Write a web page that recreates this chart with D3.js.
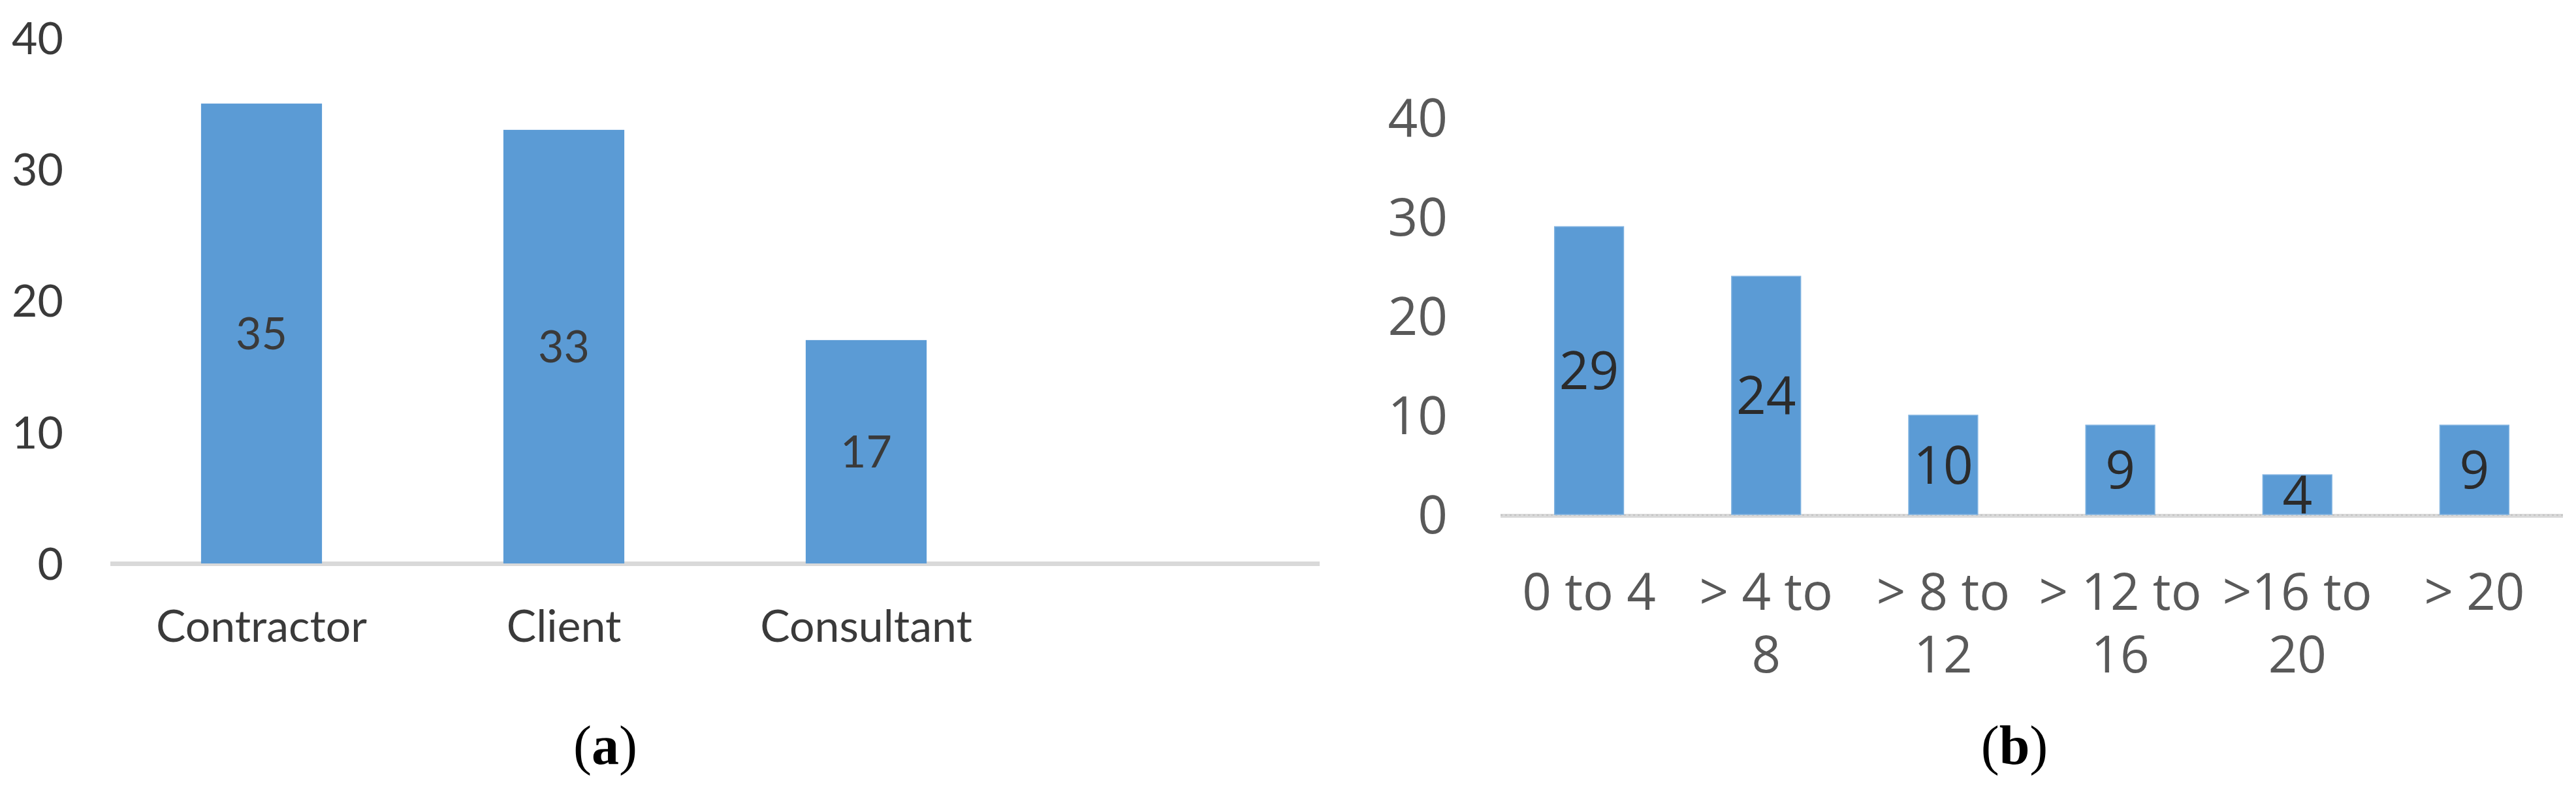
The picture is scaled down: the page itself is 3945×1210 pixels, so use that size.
<!DOCTYPE html>
<html>
<head>
<meta charset="utf-8">
<script src="https://cdn.jsdelivr.net/npm/d3@7"></script>
<style>
  body { margin: 0; background: #fff; }
</style>
</head>
<body>
<div id="chart"></div>
<script>
// Panel (a): respondents by organisation type.
const roles = ["Contractor", "Client", "Consultant"];
const roleCounts = [35, 33, 17];

// Panel (b): respondents by years of experience.
const expLabels = [["0 to 4"], ["> 4 to", "8"], ["> 8 to", "12"], ["> 12 to", "16"], [">16 to", "20"], ["> 20"]];
const expCounts = [29, 24, 10, 9, 4, 9];

const yTicks = [0, 10, 20, 30, 40];

const width = 3945;
const height = 1210;
const barColor = "#5b9bd5";

const svg = d3.select("#chart")
    .append("svg")
    .attr("width", width)
    .attr("height", height);

// ---------- panel (a) ----------
const leftFont = "Lato, Calibri, sans-serif";

const xA = d3.scaleBand()
    .domain(roles)
    .range([169, 169 + 3 * 463])
    .paddingInner(0.6)
    .paddingOuter(0.3);

const yA = d3.scaleLinear()
    .domain([0, 40])
    .range([863, 58]);

// baseline runs one empty slot further than the categories
svg.append("line")
    .attr("x1", xA.range()[0])
    .attr("x2", xA.range()[0] + 4 * xA.step())
    .attr("y1", yA(0) + 0.5)
    .attr("y2", yA(0) + 0.5)
    .attr("stroke", "#d9d9d9")
    .attr("stroke-width", 7);

svg.append("g")
    .selectAll("rect")
    .data(roles)
    .join("rect")
    .attr("x", d => xA(d))
    .attr("y", (d, i) => yA(roleCounts[i]))
    .attr("width", xA.bandwidth())
    .attr("height", (d, i) => yA(0) - yA(roleCounts[i]))
    .attr("fill", barColor);

svg.append("g")
    .selectAll("text")
    .data(roles)
    .join("text")
    .attr("x", d => xA(d) + xA.bandwidth() / 2)
    .attr("y", (d, i) => (yA(0) + yA(roleCounts[i])) / 2)
    .attr("dy", "0.36em")
    .attr("text-anchor", "middle")
    .attr("font-family", leftFont)
    .attr("font-size", 68)
    .attr("fill", "#3a3a3a")
    .text((d, i) => roleCounts[i]);

const yAxisA = svg.append("g")
    .attr("transform", "translate(97,0)")
    .call(d3.axisLeft(yA).tickValues(yTicks).tickSize(0).tickPadding(0));
yAxisA.select(".domain").remove();
yAxisA.selectAll("text")
    .attr("font-family", leftFont)
    .attr("font-size", 68)
    .attr("dy", "0.36em")
    .attr("fill", "#3a3a3a");

const xAxisA = svg.append("g")
    .attr("transform", `translate(0,${yA(0)})`)
    .call(d3.axisBottom(xA).tickSize(0).tickPadding(72));
xAxisA.select(".domain").remove();
xAxisA.selectAll("text")
    .attr("font-family", leftFont)
    .attr("font-size", 68)
    .attr("fill", "#3a3a3a");

// ---------- panel (b) ----------
const rightFont = "'Open Sans', 'Segoe UI', sans-serif";
const expKeys = expLabels.map(d => d.join(" "));

const xB = d3.scaleBand()
    .domain(expKeys)
    .range([2298, 3925])
    .paddingInner(0.61)
    .paddingOuter(0.305);

const yB = d3.scaleLinear()
    .domain([0, 40])
    .range([788, 180]);

svg.append("line")
    .attr("x1", xB.range()[0])
    .attr("x2", xB.range()[1])
    .attr("y1", yB(0) + 2)
    .attr("y2", yB(0) + 2)
    .attr("stroke", "#d9d9d9")
    .attr("stroke-width", 6);
svg.append("line")
    .attr("x1", xB.range()[0])
    .attr("x2", xB.range()[1])
    .attr("y1", yB(0) + 1)
    .attr("y2", yB(0) + 1)
    .attr("stroke", "#bdbdbd")
    .attr("stroke-width", 1.5)
    .attr("stroke-dasharray", "3 4");

svg.append("g")
    .selectAll("rect")
    .data(expKeys)
    .join("rect")
    .attr("x", d => xB(d))
    .attr("y", (d, i) => yB(expCounts[i]))
    .attr("width", xB.bandwidth())
    .attr("height", (d, i) => yB(0) - yB(expCounts[i]))
    .attr("fill", barColor)
    .attr("stroke", "#7fb2e0")
    .attr("stroke-width", 1.5);

svg.append("g")
    .selectAll("text")
    .data(expKeys)
    .join("text")
    .attr("x", d => xB(d) + xB.bandwidth() / 2)
    .attr("y", (d, i) => (yB(0) + yB(expCounts[i])) / 2)
    .attr("dy", "0.36em")
    .attr("text-anchor", "middle")
    .attr("font-family", rightFont)
    .attr("font-size", 80)
    .attr("fill", "#2b2b2b")
    .text((d, i) => expCounts[i]);

const yAxisB = svg.append("g")
    .attr("transform", "translate(2217,0)")
    .call(d3.axisLeft(yB).tickValues(yTicks).tickSize(0).tickPadding(0));
yAxisB.select(".domain").remove();
yAxisB.selectAll("text")
    .attr("font-family", rightFont)
    .attr("font-size", 80)
    .attr("dy", "0.36em")
    .attr("fill", "#595959");

// category labels, wrapped over two lines like the original
const labelLines = [];
expLabels.forEach(function(lines, i) {
    lines.forEach(function(l, j) {
        labelLines.push({ key: expKeys[i], text: l, row: j });
    });
});

svg.append("g")
    .selectAll("text")
    .data(labelLines)
    .join("text")
    .attr("x", d => xB(d.key) + xB.bandwidth() / 2)
    .attr("y", d => 934 + d.row * 96)
    .attr("text-anchor", "middle")
    .attr("font-family", rightFont)
    .attr("font-size", 78)
    .attr("fill", "#595959")
    .text(d => d.text);

// ---------- panel captions ----------
const captions = [["a", xA.range()[0] + 758], ["b", 3085]];
captions.forEach(function(c) {
    const t = svg.append("text")
        .attr("x", c[1])
        .attr("y", 1170)
        .attr("text-anchor", "middle")
        .attr("font-family", "'Liberation Serif', 'Times New Roman', serif")
        .attr("font-size", 84)
        .attr("fill", "#000");
    t.append("tspan").text("(");
    t.append("tspan").attr("font-weight", "bold").text(c[0]);
    t.append("tspan").text(")");
});
</script>
</body>
</html>
